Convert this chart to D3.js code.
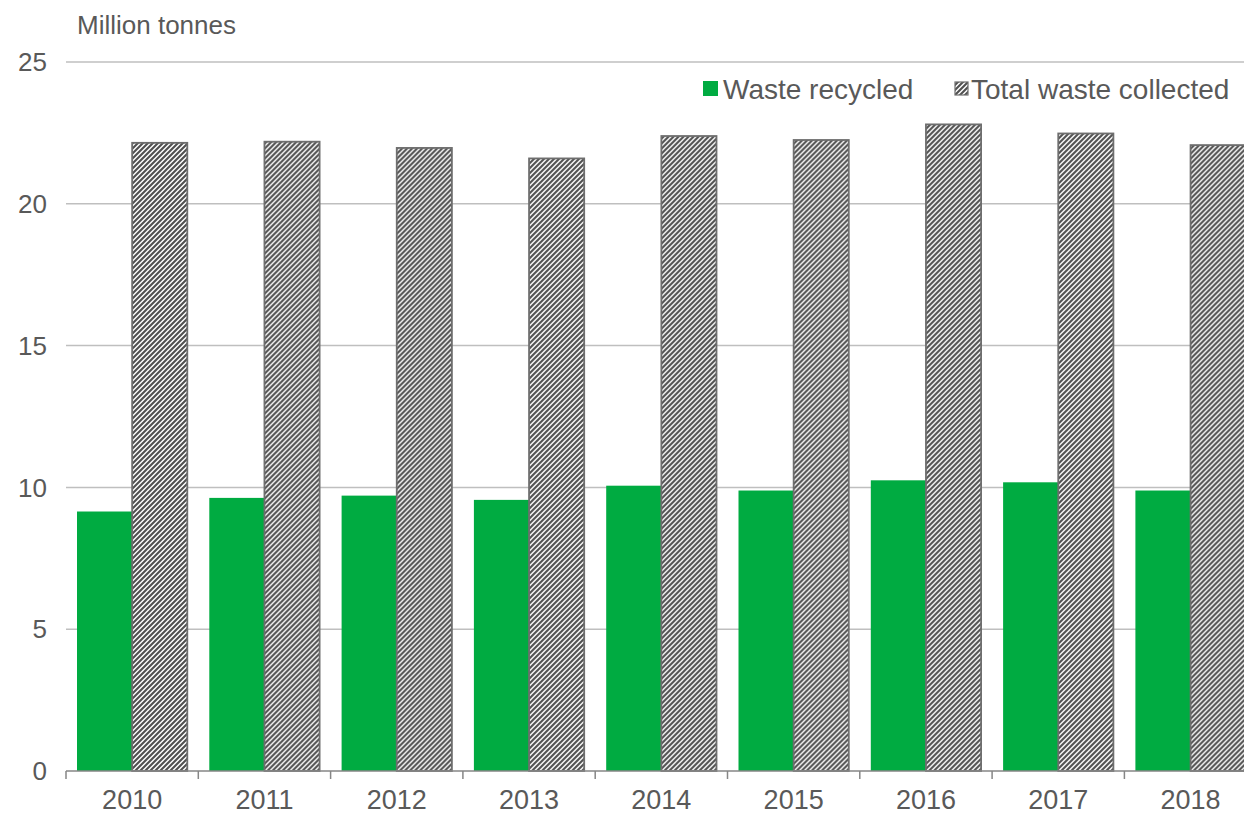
<!DOCTYPE html>
<html>
<head>
<meta charset="utf-8">
<script src="https://cdn.jsdelivr.net/npm/d3@7"></script>
<style>
  html, body { margin: 0; padding: 0; background: #fff; }
  svg { display: block; font-family: "Liberation Sans", Arial, sans-serif; }
</style>
</head>
<body>
<svg id="chart" width="1244" height="816"></svg>
<script>
// Municipal waste, million tonnes per year
const years = ["2010", "2011", "2012", "2013", "2014", "2015", "2016", "2017", "2018"];
const wasteRecycled = [9.15, 9.63, 9.71, 9.56, 10.06, 9.89, 10.25, 10.18, 9.89];
const totalCollected = [22.15, 22.19, 21.97, 21.60, 22.39, 22.25, 22.80, 22.48, 22.07];
const yTicks = [0, 5, 10, 15, 20, 25];
const seriesNames = ["Waste recycled", "Total waste collected"];

const svg = d3.select("#chart");
const textColor = "#595959";

const plot = { left: 66, top: 62, bottom: 771, step: 132.3 };

const x = d3.scaleBand()
  .domain(years)
  .range([plot.left, plot.left + plot.step * years.length])
  .paddingInner(0).paddingOuter(0);

const inner = d3.scaleBand()
  .domain(seriesNames)
  .range([11, x.bandwidth() - 11]);

const y = d3.scaleLinear().domain([0, 25]).range([plot.bottom, plot.top]);

// diagonal hatch fill
const defs = svg.append("defs");
const pat = defs.append("pattern")
  .attr("id", "hatch")
  .attr("patternUnits", "userSpaceOnUse")
  .attr("width", 5).attr("height", 5);
pat.append("rect").attr("width", 5).attr("height", 5).attr("fill", "#fff");
pat.append("path")
  .attr("d", "M-1,1 L1,-1 M0,5 L5,0 M4,6 L6,4")
  .attr("stroke", "#505050").attr("stroke-width", 2.1);

// gridlines
svg.append("g")
  .selectAll("line")
  .data(yTicks.filter(d => d > 0))
  .join("line")
  .attr("x1", plot.left).attr("x2", 1244)
  .attr("y1", d => y(d)).attr("y2", d => y(d))
  .attr("stroke", "#bfbfbf").attr("stroke-width", 1.5);

// y tick labels
svg.append("g")
  .selectAll("text")
  .data(yTicks)
  .join("text")
  .attr("x", 47).attr("y", d => y(d))
  .attr("dy", "0.35em")
  .attr("text-anchor", "end")
  .attr("fill", textColor)
  .attr("font-size", 26)
  .text(d => d);

// unit label
svg.append("text")
  .attr("x", 77).attr("y", 34)
  .attr("fill", textColor)
  .attr("font-size", 26)
  .text("Million tonnes");

// bars
const groups = svg.append("g")
  .selectAll("g")
  .data(years)
  .join("g")
  .attr("transform", d => `translate(${x(d)},0)`);

groups.append("rect")
  .attr("x", inner("Waste recycled"))
  .attr("width", inner.bandwidth())
  .attr("y", (d, i) => y(wasteRecycled[i]))
  .attr("height", (d, i) => y(0) - y(wasteRecycled[i]))
  .attr("fill", "#00ab41");

groups.append("rect")
  .attr("x", inner("Total waste collected"))
  .attr("width", inner.bandwidth())
  .attr("y", (d, i) => y(totalCollected[i]))
  .attr("height", (d, i) => y(0) - y(totalCollected[i]))
  .attr("fill", "url(#hatch)")
  .attr("stroke", "#6e6e6e")
  .attr("stroke-width", 1.8);

// x axis
const xAxis = d3.axisBottom(x).tickSize(0).tickPadding(19);
const gx = svg.append("g")
  .attr("transform", `translate(0,${plot.bottom})`)
  .call(xAxis);
gx.select(".domain").remove();
gx.selectAll("text")
  .attr("fill", textColor)
  .attr("font-size", 27)
  .attr("font-family", "Liberation Sans, Arial, sans-serif");

svg.append("line")
  .attr("x1", plot.left).attr("x2", 1244)
  .attr("y1", plot.bottom).attr("y2", plot.bottom)
  .attr("stroke", "#868686").attr("stroke-width", 1.5);

// category boundary ticks
svg.append("g")
  .selectAll("line")
  .data(years)
  .join("line")
  .attr("x1", d => x(d)).attr("x2", d => x(d))
  .attr("y1", plot.bottom).attr("y2", plot.bottom + 8)
  .attr("stroke", "#868686").attr("stroke-width", 1.5);

// legend
const legend = svg.append("g").attr("font-size", 28).attr("fill", textColor);
legend.append("rect")
  .attr("x", 703).attr("y", 81).attr("width", 15).attr("height", 15)
  .attr("fill", "#00ab41");
legend.append("text")
  .attr("x", 723).attr("y", 89).attr("dy", "0.35em")
  .text(seriesNames[0]);
legend.append("rect")
  .attr("x", 955).attr("y", 82).attr("width", 13).attr("height", 13)
  .attr("fill", "url(#hatch)")
  .attr("stroke", "#6e6e6e").attr("stroke-width", 1.2);
legend.append("text")
  .attr("x", 971).attr("y", 89).attr("dy", "0.35em")
  .text(seriesNames[1]);
</script>
</body>
</html>
